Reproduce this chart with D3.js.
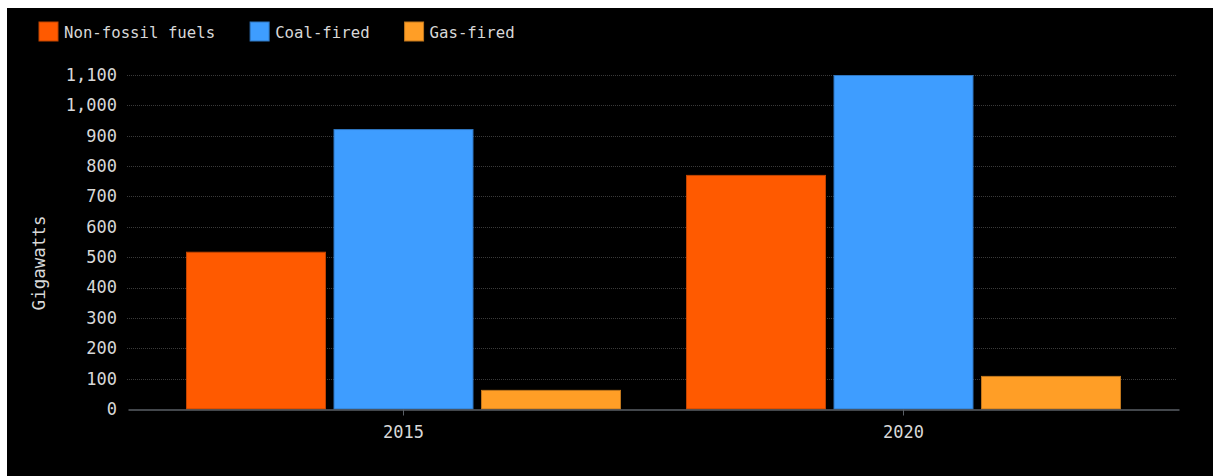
<!DOCTYPE html>
<html>
<head>
<meta charset="utf-8">
<script src="https://cdn.jsdelivr.net/npm/d3@7"></script>
<style>
  html, body { margin: 0; padding: 0; background: #ffffff; }
  svg { display: block; }
  text { font-family: "DejaVu Sans Mono", monospace; fill: #d8d8d8; }
</style>
</head>
<body>
<svg id="chart" width="1213" height="476"></svg>
<script>
const years = ["2015", "2020"];
const seriesNames = ["Non-fossil fuels", "Coal-fired", "Gas-fired"];
const nonFossil = [518, 771];
const coalFired = [922, 1100];
const gasFired = [63, 109];
const seriesColors = ["#ff5a00", "#3e9dff", "#ff9e26"];
const yTicks = [0, 100, 200, 300, 400, 500, 600, 700, 800, 900, 1000, 1100];
const yLabel = "Gigawatts";

const seriesValues = [nonFossil, coalFired, gasFired];

const svg = d3.select("#chart");
svg.append("rect").attr("x", 7).attr("y", 8).attr("width", 1206).attr("height", 468).attr("fill", "#000");

const x0 = d3.scaleBand().domain(years).range([128, 1179]).paddingInner(0.13).paddingOuter(0.116);
const x1 = d3.scaleBand().domain(seriesNames).range([0, x0.bandwidth()]).paddingInner(0.051);
const y = d3.scaleLinear().domain([0, 1100]).range([409, 75]);

// gridlines
svg.append("g").selectAll("line").data(yTicks.filter(d => d > 0)).join("line")
  .attr("x1", 127).attr("x2", 1177)
  .attr("y1", d => Math.round(y(d)) + 0.5).attr("y2", d => Math.round(y(d)) + 0.5)
  .attr("stroke", "#3a3a3a").attr("stroke-width", 1).attr("stroke-dasharray", "1,1");

// y axis labels
const yAxis = d3.axisLeft(y).tickValues(yTicks).tickFormat(d3.format(",")).tickSize(0).tickPadding(0);
const gy = svg.append("g").attr("transform", "translate(117,0)").call(yAxis);
gy.select(".domain").remove();
gy.selectAll("text").style("font-size", "17px").attr("fill", "#d8d8d8").style("font-family", "DejaVu Sans Mono");

// bars
const groups = svg.append("g").selectAll("g").data(years).join("g")
  .attr("transform", d => `translate(${x0(d)},0)`);
groups.selectAll("rect").data((d, i) => seriesNames.map((s, j) => ({ s, j, v: seriesValues[j][i] }))).join("rect")
  .attr("x", d => x1(d.s) + 0.5)
  .attr("width", x1.bandwidth() - 1)
  .attr("y", d => y(d.v) + 0.5)
  .attr("height", d => y(0) - y(d.v) - 0.5)
  .attr("fill", d => seriesColors[d.j])
  .attr("stroke", d => d3.color(seriesColors[d.j]).darker(0.8))
  .attr("stroke-width", 1);

// x axis
const xAxis = d3.axisBottom(x0).tickSize(6).tickPadding(10).tickSizeOuter(0);
const gx = svg.append("g").attr("transform", `translate(0,${y(0) + 0.5})`).call(xAxis);
gx.select(".domain").attr("stroke", "#5a5f66").attr("stroke-width", 1.5);
gx.selectAll(".tick line").attr("stroke", "#5a5f66");
gx.selectAll("text").style("font-size", "17px").attr("fill", "#d8d8d8").style("font-family", "DejaVu Sans Mono");

// y label
svg.append("text").attr("transform", "translate(45,263) rotate(-90)")
  .attr("text-anchor", "middle").style("font-size", "17.5px").attr("fill", "#d8d8d8").text(yLabel);

// legend
const legend = svg.append("g");
let lx = 39;
seriesNames.forEach((name, i) => {
  legend.append("rect").attr("x", lx).attr("y", 22).attr("width", 19).attr("height", 19)
    .attr("fill", seriesColors[i]).attr("stroke", d3.color(seriesColors[i]).darker(0.8));
  const t = legend.append("text").attr("x", lx + 25).attr("y", 38).style("font-size", "15.7px").text(name);
  lx = lx + 25 + t.node().getComputedTextLength() + 35;
});
</script>
</body>
</html>
